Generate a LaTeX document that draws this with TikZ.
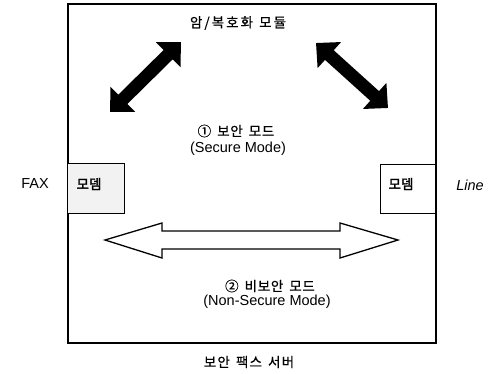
\documentclass[tikz,border=0pt]{standalone}
\usepackage{fontspec}
\setmainfont{Liberation Sans}
\newfontfamily\kr[LetterSpace=5,FakeBold=0.6]{Noto Sans CJK KR}
\newfontfamily\krwide[LetterSpace=15,FakeBold=0.6]{Noto Sans CJK KR}
\newfontfamily\krmid[LetterSpace=9,FakeBold=0.6]{Noto Sans CJK KR}
\newfontfamily\krb[FakeBold=2]{Noto Sans CJK KR}
\newcommand{\ksp}{\hspace{0.45em}}
\usetikzlibrary{arrows.meta}
\begin{document}
\begin{tikzpicture}[x=1pt,y=-1pt,
  kor/.style={inner sep=0pt, font=\kr\fontsize{13.5}{15}\selectfont},
  korwide/.style={inner sep=0pt, font=\krwide\fontsize{13.5}{15}\selectfont},
  kormid/.style={inner sep=0pt, font=\krmid\fontsize{13.5}{15}\selectfont},
  korb/.style={inner sep=0pt, font=\krb\fontsize{13.5}{15}\selectfont},
  lat/.style={inner sep=0pt, font=\fontsize{14.5}{16}\selectfont},
  frame/.style={draw=black, line width=2pt},
  modem/.style={draw=black, line width=1pt, anchor=north west},
  bigarrow/.style={line width=13pt, {Triangle[width=34pt,length=18pt]}-{Triangle[width=34pt,length=18pt]}},
  hollow/.style={draw=black, line width=1.3pt, fill=white, line join=miter}]
\useasboundingbox (0,0) rectangle (491,373);
% outer server box
\node[frame, anchor=north west, minimum width=368pt, minimum height=339pt, inner sep=0pt] (server) at (67,3) {};
% modems
\node[modem, fill=gray!10, minimum width=57pt, minimum height=50pt] (mL) at (67,163) {};
\node[modem, minimum width=55pt, minimum height=49pt] (mR) at (380,164) {};
\node[korb] (mLt) at (89,184) {모뎀};
\node[korb] (mRt) at (401,184) {모뎀};
% labels
\node[korwide] (crypto) at (238,23) {암/복호화\ksp 모듈};
\node[kor] (sec1) at (236,131) {①\ksp 보안\ksp 모드};
\node[lat] (sec2) at (238,149) {(Secure Mode)};
\node[kor] (ns1) at (270,286) {②\ksp 비보안\ksp 모드};
\node[lat] (ns2) at (267,302) {(Non-Secure Mode)};
\node[kormid] (title) at (249,362) {보안\ksp 팩스\ksp 서버};
\node[lat] (fax) at (35,184) {FAX};
\node[lat, font=\fontsize{14.5}{16}\selectfont\itshape] (line) at (470,185) {Line};
% black secure-mode arrows
\coordinate (aL1) at (110,112);
\coordinate (aL2) at (181,42);
\coordinate (aR1) at (316,43);
\coordinate (aR2) at (388,108);
\draw[bigarrow] (aL1) -- (aL2);
\draw[bigarrow] (aR1) -- (aR2);
% hollow non-secure arrow
\coordinate (hL) at (105,240);
\coordinate (hR) at (398,240);
\draw[hollow] (hL) -- (162,223) -- (162,231) -- (340,231) -- (340,223) -- (hR)
  -- (340,258) -- (340,249) -- (162,249) -- (162,258) -- cycle;
\end{tikzpicture}
\end{document}
